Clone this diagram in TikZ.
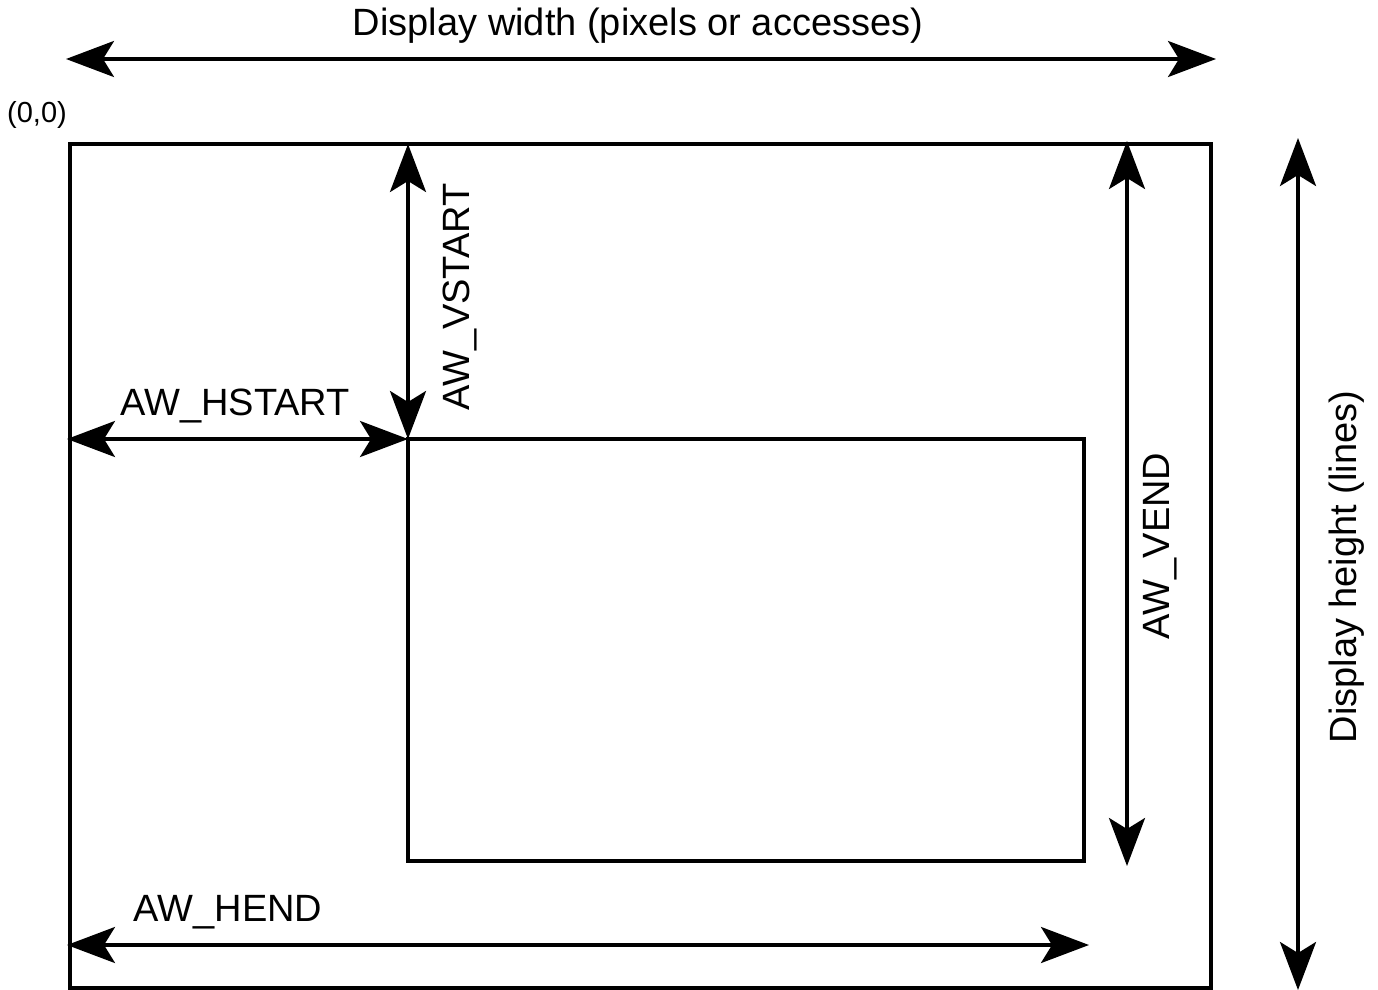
\documentclass[tikz,border=0pt]{standalone}
\usepackage{fontspec}
\setmainfont{Liberation Sans}
\usetikzlibrary{arrows.meta,positioning}

\begin{document}
\begin{tikzpicture}[x=1pt, y=-1pt, >={Stealth[length=48pt,width=36pt,inset=11pt]},
  every node/.style={font=\fontsize{38}{45}\selectfont, inner sep=0pt},
  dim/.style={<->, line width=3.5pt},
  frame/.style={draw, line width=4pt}]
\useasboundingbox (0,0) rectangle (1378,990);
% display and active window
\coordinate (dtl) at (70,144);
\coordinate (dbr) at (1211,988);
\coordinate (wtl) at (408,439);
\coordinate (wbr) at (1084,861);
\draw[frame] (dtl) rectangle (dbr);
\draw[line width=3.5pt] (wtl) rectangle (wbr);
% end points of the dimension arrows
\coordinate (wl) at (66,59);
\coordinate (wr) at (1216,59);
\coordinate (ht) at (1298,138);
\coordinate (hb) at (1298,990);
\coordinate (vst) at (408,144);
\coordinate (hsl) at (67,439);
\coordinate (vet) at (1127,141);
\coordinate (veb) at (1127,866);
\coordinate (hel) at (67,945);
\coordinate (her) at (1089,945);
\draw[dim] (wl) -- (wr);
\draw[dim] (ht) -- (hb);
\draw[dim] (vst) -- (wtl);
\draw[dim] (hsl) -- (wtl);
\draw[dim] (vet) -- (veb);
\draw[dim] (hel) -- (her);
% labels
\node (origin) at (37,115) {\fontsize{29}{34}\selectfont (0,0)};
\node (dwidth) at (638,26) {Display width (pixels or accesses)};
\node[rotate=90] (dheight) at (1347,567) {Display height (lines)};
\node[rotate=90] (vstart) at (460,297) {AW\_VSTART};
\node[rotate=90] (vend) at (1160,546) {AW\_VEND};
\node (hstart) at (235,406) {AW\_HSTART};
\node (hend) at (228,912) {AW\_HEND};
\end{tikzpicture}
\end{document}
